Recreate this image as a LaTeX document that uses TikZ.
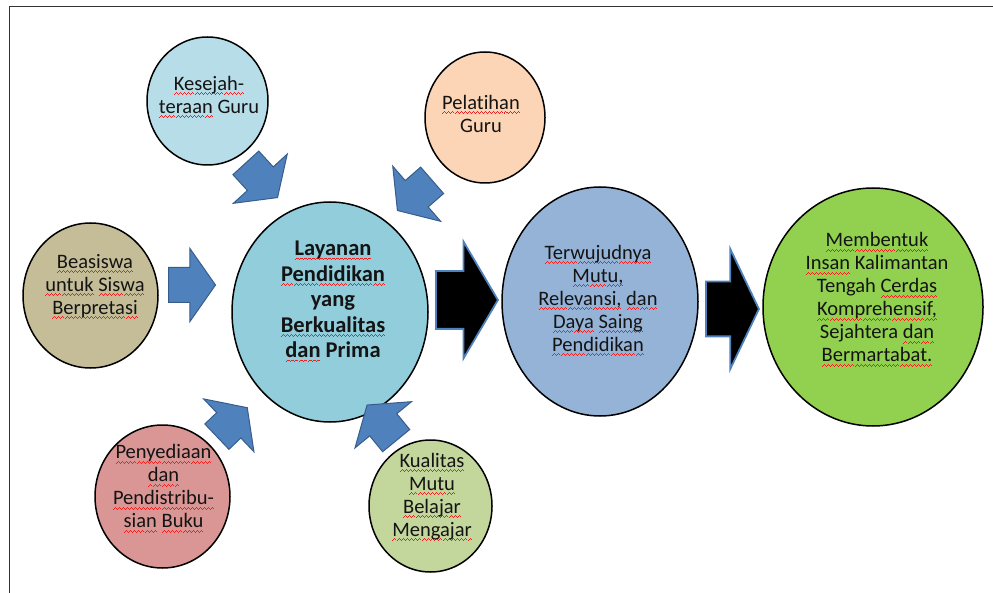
\documentclass[tikz,border=0pt]{standalone}
\usepackage{fontspec}
\setmainfont{Carlito}[Ligatures=NoCommon]
\usepackage{xcolor}
\definecolor{kesfill}{HTML}{B7DEE8}
\definecolor{pelfill}{HTML}{FBD5B5}
\definecolor{beafill}{HTML}{C4BD97}
\definecolor{layfill}{HTML}{92CDDC}
\definecolor{terfill}{HTML}{95B3D7}
\definecolor{memfill}{HTML}{92D050}
\definecolor{penfill}{HTML}{D99694}
\definecolor{kuafill}{HTML}{C3D69B}
\definecolor{arrowblue}{HTML}{4F81BD}
\definecolor{arrowline}{HTML}{385D8A}
\definecolor{txtcol}{HTML}{141414}
\definecolor{wavered}{HTML}{F02020}
% red wavy spell-check line under a word
\newsavebox\wvbox
\newcommand\wvunit{\hbox{\rule{1pt}{0.8pt}\rule[0.8pt]{1pt}{0.8pt}\rule[1.6pt]{1pt}{0.8pt}\rule[0.8pt]{1pt}{0.8pt}}}
\newcommand\wv[1]{\sbox\wvbox{#1}\rlap{\lower4.5pt\hbox to\wd\wvbox{\color{wavered}\xleaders\wvunit\hfil}}\usebox\wvbox}
\usepackage{tikz}
\usetikzlibrary{shapes.geometric,shapes.arrows,positioning,calc}

\begin{document}
\begin{tikzpicture}[
    x=1pt, y=-1pt,
    bubble/.style={ellipse, draw=black, line width=1.5pt, inner sep=0pt},
    txt/.style={align=center, inner sep=0pt, text=txtcol, font=\fontsize{20.5}{23}\selectfont},
    bluearrow/.style={single arrow, draw=arrowline, fill=arrowblue, line width=1pt, inner xsep=0pt, inner ysep=17pt, anchor=tail, minimum height=46pt, single arrow head extend=19pt, single arrow tip angle=110},
    blackarrow/.style={single arrow, draw=arrowblue, fill=black, line width=1.8pt, inner xsep=0pt, anchor=tail}
]
\useasboundingbox (0,0) rectangle (993,593);
\draw[black!80, line width=0.8pt] (9,593) |- (993,6);

% Ellipses
\node[bubble, fill=kesfill, minimum width=121pt, minimum height=128pt] (kes) at (207.5,101) {};
\node[bubble, fill=pelfill, minimum width=120pt, minimum height=131pt] (pel) at (485,117.5) {};
\node[bubble, fill=beafill, minimum width=135pt, minimum height=145pt] (bea) at (90.5,295.5) {};
\node[bubble, fill=layfill, minimum width=196pt, minimum height=220pt] (lay) at (330,312) {};
\node[bubble, fill=terfill, minimum width=196pt, minimum height=229pt] (ter) at (600,301.5) {};
\node[bubble, fill=memfill, minimum width=220pt, minimum height=238pt] (mem) at (873,307) {};
\node[bubble, fill=penfill, minimum width=135pt, minimum height=143pt] (pen) at (162.5,496.5) {};
\node[bubble, fill=kuafill, minimum width=123pt, minimum height=132pt] (kua) at (430.5,506) {};

% Texts
\node[txt] (kes-t) at ([xshift=1.5pt, yshift=4pt]kes) {\wv{Kesejah-}\\\wv{teraan} Guru};
\node[txt] (pel-t) at ([xshift=-4pt, yshift=4pt]pel) {\wv{Pelatihan}\\Guru};
\node[txt] (bea-t) at ([xshift=4.5pt, yshift=9pt]bea) {\wv{Beasiswa}\\\wv{untuk} \wv{Siswa}\\\wv{Berpretasi}};
\node[txt, font=\fontsize{22.5}{25.5}\selectfont\bfseries] (lay-t) at ([xshift=3pt, yshift=10.5pt]lay) {\wv{Layanan}\\\wv{Pendidikan}\\yang\\\wv{Berkualitas}\\\wv{dan} Prima};
\node[txt] (ter-t) at ([xshift=-2pt, yshift=1pt]ter) {\wv{Terwujudnya}\\\wv{Mutu,}\\\wv{Relevansi,} \wv{dan}\\\wv{Daya} \wv{Saing}\\\wv{Pendidikan}};
\node[txt] (mem-t) at ([xshift=4pt, yshift=7.5pt]mem) {\wv{Membentuk}\\\wv{Insan} Kalimantan\\Tengah \wv{Cerdas}\\\wv{Komprehensif,}\\Sejahtera \wv{dan}\\\wv{Bermartabat.}};
\node[txt] (pen-t) at ([xshift=1pt, yshift=8pt]pen) {\wv{Penyediaan}\\\wv{dan}\\\wv{Pendistribu-}\\\wv{sian} \wv{Buku}};
\node[txt] (kua-t) at ([xshift=1.5pt, yshift=9pt]kua) {\wv{Kualitas}\\\wv{Mutu}\\\wv{Belajar}\\\wv{Mengajar}};

% Block arrows
\node[bluearrow, rotate=-47.6, minimum height=47pt] (a-kes) at (245.5,162.5) {};
\node[bluearrow, rotate=-139] (a-pel) at (432.5,180) {};
\node[bluearrow, minimum height=47pt] (a-bea) at (168,285) {};
\node[bluearrow, rotate=43.6, minimum height=42pt] (a-pen) at (216.5,437) {};
\node[bluearrow, rotate=129.3] (a-kua) at (396.5,441) {};
\node[blackarrow, inner ysep=28pt, minimum height=62pt, single arrow head extend=29.5pt, single arrow tip angle=119] (a-lay) at (435,300) {};
\node[blackarrow, inner ysep=26.5pt, minimum height=53pt, single arrow head extend=32.5pt, single arrow tip angle=129] (a-ter) at (705,309) {};
\end{tikzpicture}
\end{document}
